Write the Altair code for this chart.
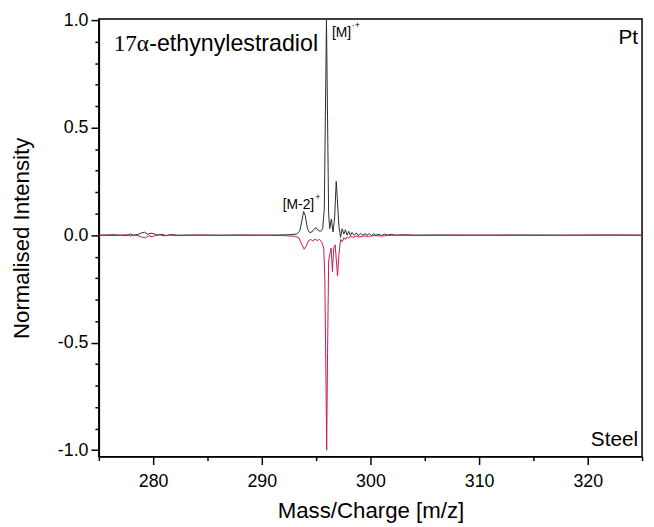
import altair as alt
import pandas as pd

# Pt electrode trace (upper, black)
pt_mz = [275.0, 276.5, 277.5, 277.9, 278.2, 278.6, 278.9, 279.2, 279.5, 279.8,
         280.1, 280.4, 280.8, 281.2, 281.6, 282.2, 284.0, 286.0, 288.0, 290.0,
         291.5, 292.5, 293.2, 293.5, 293.7, 293.85, 294.0, 294.2, 294.4, 294.6,
         294.8, 295.0, 295.2, 295.4, 295.6, 295.75, 295.85, 295.95, 296.05, 296.15,
         296.25, 296.4, 296.55, 296.7, 296.85, 296.95, 297.1, 297.25, 297.4, 297.55,
         297.7, 297.85, 298.0, 298.15, 298.3, 298.5, 298.7, 298.9, 299.1, 299.3,
         299.5, 299.7, 299.9, 300.1, 300.3, 300.5, 300.8, 301.0, 301.3, 301.6,
         301.9, 302.3, 303.0, 304.0, 306.0, 310.0, 314.0, 318.0, 322.0, 325.0]
pt_int = [0.0, 0.002, -0.002, 0.005, 0.0, 0.003, 0.010, 0.014, 0.004, 0.009,
          0.006, 0.0, 0.004, -0.002, 0.003, 0.0, 0.001, 0.0, 0.001, 0.0,
          0.001, 0.002, 0.005, 0.02, 0.07, 0.11, 0.09, 0.03, 0.012, 0.015,
          0.028, 0.035, 0.022, 0.018, 0.03, 0.12, 0.55, 1.0, 0.55, 0.1,
          0.03, 0.075, 0.015, 0.08, 0.25, 0.17, 0.04, -0.01, 0.03, 0.005,
          0.025, 0.0, 0.018, -0.002, 0.013, 0.0, 0.01, -0.002, 0.008, 0.0,
          0.007, 0.0, 0.008, -0.002, 0.006, 0.0, 0.005, -0.002, 0.005, 0.0,
          0.004, 0.0, 0.002, 0.0, 0.001, 0.0, 0.001, 0.0, 0.001, 0.0]

# Steel electrode trace (lower, mirrored)
steel_mz = [275.0, 276.5, 277.6, 277.9, 278.3, 278.7, 279.0, 279.3, 279.6, 279.9,
            280.2, 280.6, 281.0, 281.5, 282.5, 284.0, 287.0, 290.0, 292.0, 293.0,
            293.4, 293.65, 293.9, 294.1, 294.3, 294.5, 294.7, 294.9, 295.1, 295.3,
            295.5, 295.7, 295.8, 295.9, 295.97, 296.05, 296.15, 296.25, 296.38, 296.5,
            296.62, 296.75, 296.97, 297.1, 297.25, 297.4, 297.55, 297.7, 297.85, 298.0,
            298.2, 298.4, 298.7, 299.0, 299.4, 299.8, 300.3, 301.0, 302.0, 305.0,
            310.0, 315.0, 320.0, 325.0]
steel_int = [0.0, -0.002, 0.002, -0.004, 0.0, -0.004, -0.01, -0.012, -0.003, -0.007,
             -0.002, 0.002, -0.003, 0.0, -0.002, 0.0, -0.001, 0.0, -0.002, -0.005,
             -0.012, -0.04, -0.065, -0.05, -0.025, -0.02, -0.027, -0.018, -0.025, -0.02,
             -0.03, -0.06, -0.2, -0.65, -1.0, -0.55, -0.12, -0.09, -0.06, -0.17,
             -0.06, -0.045, -0.19, -0.09, -0.02, -0.03, -0.012, -0.02, -0.008, -0.015,
             -0.005, -0.01, -0.004, -0.008, -0.003, -0.006, -0.002, -0.004, 0.0, -0.001,
             0.0, -0.001, 0.0, 0.0]

x_major = [280, 290, 300, 310, 320]
x_minor = [275, 285, 295, 305, 315, 325]
y_major = [-1.0, -0.5, 0.0, 0.5, 1.0]
y_minor = [-0.9, -0.8, -0.7, -0.6, -0.4, -0.3, -0.2, -0.1,
           0.1, 0.2, 0.3, 0.4, 0.6, 0.7, 0.8, 0.9]

df = pd.concat([
    pd.DataFrame({"mz": pt_mz, "intensity": pt_int, "electrode": "Pt"}),
    pd.DataFrame({"mz": steel_mz, "intensity": steel_int, "electrode": "Steel"}),
])

sans = "Liberation Sans"
x_scale = alt.Scale(domain=[275, 325], nice=False, zero=False)
y_scale = alt.Scale(domain=[-1.03, 1.005], nice=False, zero=False)

common = dict(grid=False, domainColor="black", tickColor="black", domainWidth=1.5,
              tickWidth=1.5, labelColor="black", titleColor="black",
              labelFont=sans, titleFont=sans, titleFontWeight="normal")

lines = alt.Chart(df).mark_line(strokeWidth=1).encode(
    x=alt.X("mz:Q", scale=x_scale, axis=alt.Axis(
        values=x_major, format="d", title="Mass/Charge [m/z]", tickSize=8,
        labelFontSize=18, titleFontSize=22.5, labelPadding=8, titlePadding=10, **common)),
    y=alt.Y("intensity:Q", scale=y_scale, axis=alt.Axis(
        values=y_major, title="Normalised Intensity", tickSize=8,
        labelExpr="replace(format(datum.value, '.1f'), '\u2212', '-')",
        labelFontSize=18, titleFontSize=22.5, labelPadding=3, titlePadding=24, **common)),
    color=alt.Color("electrode:N", legend=None,
                    scale=alt.Scale(domain=["Pt", "Steel"], range=["#2b2b2b", "#c8174e"])),
)

minor = alt.Chart(df).mark_point(opacity=0).encode(
    x=alt.X("mz:Q", scale=x_scale, axis=alt.Axis(
        values=x_minor, labels=False, title=None, tickSize=4, domain=False,
        orient="bottom", **common)),
    y=alt.Y("intensity:Q", scale=y_scale, axis=alt.Axis(
        values=y_minor, labels=False, title=None, tickSize=4, domain=False,
        orient="left", **common)),
)


def label(text, x, y, size, align="left", font=sans):
    return alt.Chart(pd.DataFrame({"t": [text]})).mark_text(
        align=align, baseline="alphabetic", font=font, fontSize=size, color="black"
    ).encode(x=alt.value(x), y=alt.value(y), text="t:N")


texts = [
    label("17\u03b1", 15, 32, 23.5, font="Liberation Serif"),
    label("-ethynylestradiol", 51, 32, 23.5),
    label("Pt", 546, 25, 21, align="right"),
    label("Steel", 546, 432, 21, align="right"),
    label("[M]", 236, 18, 14),
    label("\u00b7+", 256, 9, 9),
    label("[M-2]", 218, 192, 14, align="right"),
    label("+", 219, 183, 9),
]

chart = alt.layer(lines, minor, *texts).resolve_axis(
    x="independent", y="independent"
).properties(
    width=550, height=443,
    autosize=alt.AutoSizeParams(type="none"),
    padding={"left": 92, "top": 8, "right": 4, "bottom": 68},
).configure_view(stroke="black", strokeWidth=1.5)

chart.save("out.html", embed_options={"renderer": "svg", "actions": False})
